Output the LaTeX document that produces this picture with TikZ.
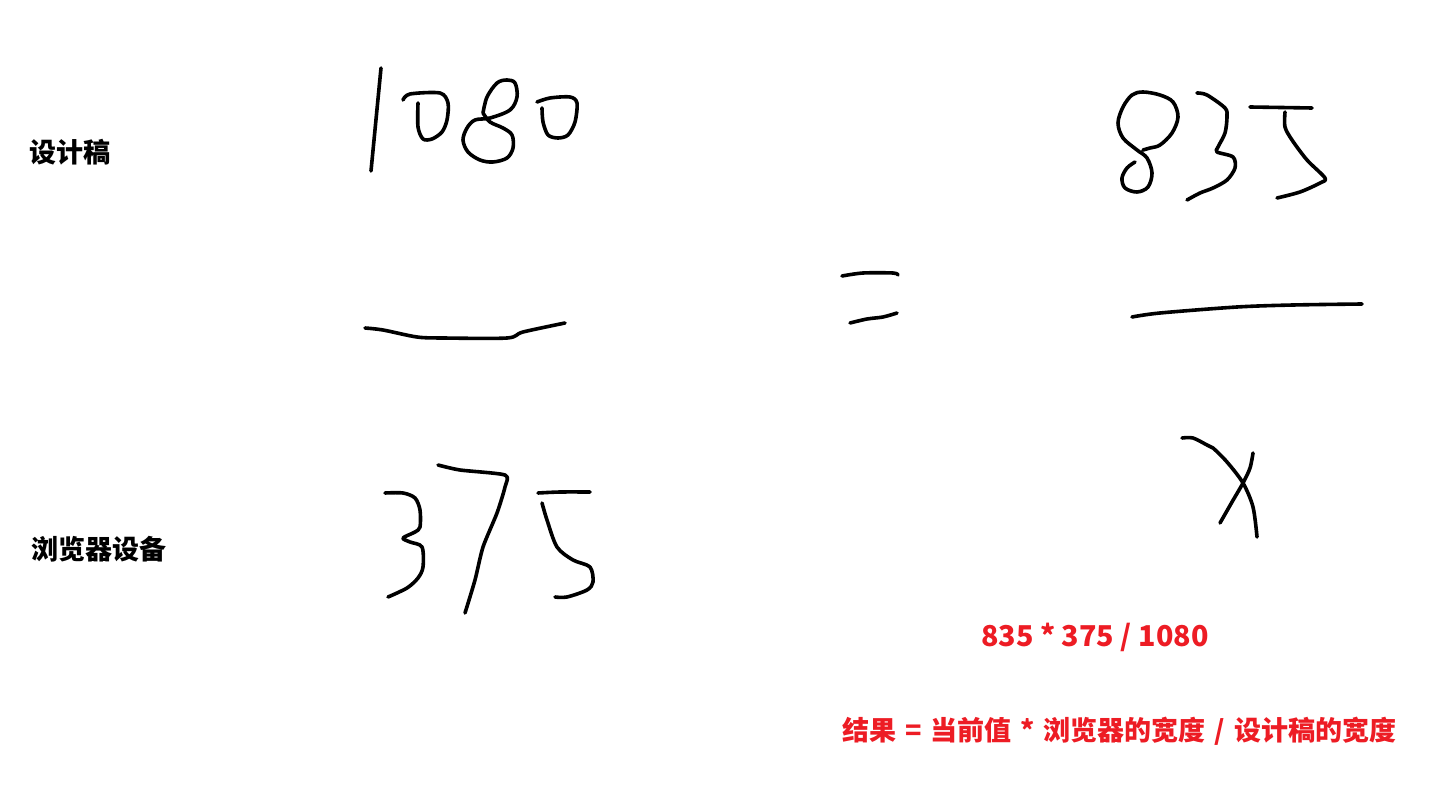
\documentclass[tikz,border=0pt]{standalone}
\usepackage{fontspec}
\newfontfamily\cjk{Noto Sans CJK SC}
\definecolor{inkred}{RGB}{237,28,36}
\tikzset{
  pen/.style={line width=3.6pt, line cap=round, line join=round, black},
  lbl/.style={anchor=west, inner sep=0pt, font=\cjk\bfseries\fontsize{27}{30}\selectfont},
  redtxt/.style={anchor=west, inner sep=0pt, text=inkred, font=\cjk\bfseries\fontsize{27}{30}\selectfont}
}
\begin{document}
\begin{tikzpicture}[x=1pt,y=-1pt]
\useasboundingbox (0,0) rectangle (1455,791);
\fill[white] (0,0) rectangle (1455,791);

% labels
\node[lbl] (design) at (29,152) {设计稿};
\node[lbl] (browser) at (31,549) {浏览器设备};
\node[redtxt, font=\cjk\bfseries\fontsize{28.7}{32}\selectfont] (calc) at (981,637) {835 * 375 / 1080};
\node[redtxt] (formula) at (842,731) {\spaceskip=9pt 结果 = 当前值 * 浏览器的宽度 / 设计稿的宽度};

% 1080
\draw[pen] (381,68) -- (371,171);
\draw[pen] plot[smooth, tension=0.5] coordinates {(403,100) (410,94) (440,93) (448,103) (447,120) (442,132) (432,139) (423,139) (418,127) (418,103)};
\draw[pen] plot[smooth, tension=0.55] coordinates {(483,113) (487,97) (497,83) (507,80) (515,83) (517,97) (510,110) (490,118) (475,120) (467,128) (463,140) (468,152) (480,160) (493,162) (507,158) (513,148) (512,135) (503,128) (490,122) (483,113)};
\draw[pen] plot[smooth, tension=0.5] coordinates {(537,102) (550,98) (570,97) (577,103) (575,122) (568,135) (558,138) (548,135) (543,122) (542,108)};

% fraction bar left
\draw[pen] plot[smooth, tension=0.5] coordinates {(365,328) (383,330) (417,337) (443,338) (507,338) (523,332) (565,323)};

% 375
\draw[pen] plot[smooth, tension=0.5] coordinates {(385,493) (403,493) (415,498) (420,510) (420,527) (415,532) (403,538) (410,542) (422,547) (423,567) (418,578) (407,588) (388,597)};
\draw[pen] plot[smooth, tension=0.4] coordinates {(438,465) (460,470) (505,475) (505,487) (497,513) (483,547) (475,580) (465,613)};
\draw[pen] plot[smooth, tension=0.5] coordinates {(538,493) (560,492) (590,492)};
\draw[pen] plot[smooth, tension=0.5] coordinates {(542,503) (547,520) (557,547) (573,560) (590,567) (593,582) (587,590) (567,597) (555,597)};

% equals
\draw[pen] plot[smooth, tension=0.5] coordinates {(842,276) (863,273) (893,273) (898,275)};
\draw[pen] plot[smooth, tension=0.5] coordinates {(850,323) (867,319) (883,317) (897,313)};

% 835
\draw[pen] plot[smooth, tension=0.55] coordinates {(1143,150) (1150,148) (1160,145) (1172,133) (1178,117) (1173,102) (1160,95) (1143,92) (1132,95) (1123,107) (1118,123) (1123,138) (1137,150) (1147,158) (1152,173) (1148,187) (1137,192) (1125,188) (1122,178) (1127,168) (1135,162)};
\draw[pen] plot[smooth, tension=0.5] coordinates {(1197,93) (1207,95) (1225,108) (1227,117) (1225,133) (1218,147) (1217,152) (1233,157) (1235,168) (1227,180) (1213,188) (1200,193) (1187,200)};
\draw[pen] (1250,107) -- (1312,108);
\draw[pen] plot[smooth, tension=0.5] coordinates {(1285,112) (1285,127) (1292,140) (1307,160) (1325,178) (1320,183) (1300,192) (1277,198)};

% fraction bar right
\draw[pen] plot[smooth, tension=0.5] coordinates {(1132,317) (1160,313) (1237,307) (1293,305) (1362,304)};

% x
\draw[pen] plot[smooth, tension=0.5] coordinates {(1182,438) (1193,438) (1207,445) (1213,448) (1227,462) (1243,483) (1253,507) (1257,537)};
\draw[pen] plot[smooth, tension=0.5] coordinates {(1253,453) (1250,468) (1243,483) (1232,502) (1220,523)};
\end{tikzpicture}
\end{document}
